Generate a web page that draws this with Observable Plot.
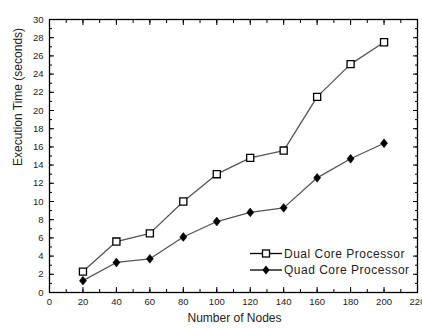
<!DOCTYPE html>
<html><head><meta charset="utf-8">
<script src="https://cdn.jsdelivr.net/npm/d3@7"></script>
<script src="https://cdn.jsdelivr.net/npm/@observablehq/plot@0.6"></script>
<style>
body{margin:0;background:#fff;}
#wrap{position:relative;width:422px;height:328px;font-family:"Liberation Sans",Arial,sans-serif;}
#legend{position:absolute;left:0;top:0;}
</style></head><body>
<div id="wrap"></div>
<script>
const nodes = [20, 40, 60, 80, 100, 120, 140, 160, 180, 200];
const dualCore = [2.3, 5.6, 6.5, 10.0, 13.0, 14.8, 15.6, 21.5, 25.1, 27.5];
const quadCore = [1.3, 3.3, 3.7, 6.1, 7.8, 8.8, 9.3, 12.6, 14.7, 16.4];
const seriesNames = ["Dual Core Processor", "Quad Core Processor"];
const xTicks = d3.range(0, 221, 20);
const xMinor = d3.range(0, 221, 10);
const yTicks = d3.range(0, 31, 2);
const yMinor = d3.range(0, 31, 1);

const dual = nodes.map((n, i) => ({n, v: dualCore[i]}));
const quad = nodes.map((n, i) => ({n, v: quadCore[i]}));

const diamond = {
  draw(ctx, size) {
    const h = Math.sqrt(size) * 0.5, w = h * 0.8;
    ctx.moveTo(0, -h); ctx.lineTo(w, 0); ctx.lineTo(0, h); ctx.lineTo(-w, 0); ctx.closePath();
  }
};

const lineColor = "#555";
const chart = Plot.plot({
  width: 422, height: 328,
  marginLeft: 49, marginRight: 5, marginTop: 19, marginBottom: 36,
  style: {fontFamily: "Liberation Sans, Arial, sans-serif", fontSize: "9.5px", color: "#000", background: "#fff"},
  x: {domain: [0, 220]},
  y: {domain: [0, 30]},
  marks: [
    Plot.frame({stroke: "#000", strokeWidth: 1.3}),
    Plot.axisX(xTicks, {anchor: "bottom", tickSize: 0, tickPadding: 6, label: null, fontSize: 9.5, fill: "#222"}),
    Plot.axisX(xTicks, {anchor: "bottom", tickSize: -5, text: null, label: null}),
    Plot.axisX(xMinor, {anchor: "bottom", tickSize: -3, text: null, label: null}),
    Plot.axisX(xTicks, {anchor: "top", tickSize: -5, text: null, label: null}),
    Plot.axisX(xMinor, {anchor: "top", tickSize: -3, text: null, label: null}),
    Plot.axisY(yTicks, {anchor: "left", tickSize: 0, tickPadding: 6, label: null, fontSize: 9.5, fill: "#222"}),
    Plot.axisY(yTicks, {anchor: "left", tickSize: -5, text: null, label: null}),
    Plot.axisY(yMinor, {anchor: "left", tickSize: -3, text: null, label: null}),
    Plot.axisY(yTicks, {anchor: "right", tickSize: -5, text: null, label: null}),
    Plot.axisY(yMinor, {anchor: "right", tickSize: -3, text: null, label: null}),
    Plot.text(["Number of Nodes"], {frameAnchor: "bottom", dy: 29, dx: 1, fontSize: 12, fill: "#222", letterSpacing: "0.3px"}),
    Plot.text(["Execution Time (seconds)"], {frameAnchor: "left", dx: -31.5, dy: 10, rotate: -90, fontSize: 12, fill: "#222"}),
    Plot.line(dual, {x: "n", y: "v", stroke: lineColor, strokeWidth: 1.3}),
    Plot.line(quad, {x: "n", y: "v", stroke: lineColor, strokeWidth: 1.3}),
    Plot.dot(dual, {x: "n", y: "v", symbol: "square", r: 4, fill: "#fff", stroke: "#000", strokeWidth: 1.3}),
    Plot.dot(quad, {x: "n", y: "v", symbol: diamond, r: 5, fill: "#000", stroke: "#000", strokeWidth: 0.5})
  ]
});
const wrap = document.getElementById("wrap");
wrap.appendChild(chart);

// Legend
const ns = "http://www.w3.org/2000/svg";
const lg = document.createElementNS(ns, "svg");
lg.setAttribute("id", "legend");
lg.setAttribute("width", 422); lg.setAttribute("height", 328);
const rows = [{y: 253.5, kind: "square"}, {y: 270, kind: "diamond"}];
rows.forEach((r, i) => {
  const l = document.createElementNS(ns, "line");
  l.setAttribute("x1", 250); l.setAttribute("x2", 282); l.setAttribute("y1", r.y); l.setAttribute("y2", r.y);
  l.setAttribute("stroke", "#000"); l.setAttribute("stroke-width", 1.3);
  lg.appendChild(l);
  let m;
  if (r.kind === "square") {
    m = document.createElementNS(ns, "rect");
    m.setAttribute("x", 262.5); m.setAttribute("y", r.y - 3.5); m.setAttribute("width", 7); m.setAttribute("height", 7);
    m.setAttribute("fill", "#fff"); m.setAttribute("stroke", "#000"); m.setAttribute("stroke-width", 1.3);
  } else {
    m = document.createElementNS(ns, "path");
    m.setAttribute("d", `M266,${r.y - 4.5}L269.6,${r.y}L266,${r.y + 4.5}L262.4,${r.y}Z`);
    m.setAttribute("fill", "#000");
  }
  lg.appendChild(m);
  const t = document.createElementNS(ns, "text");
  t.setAttribute("x", 284); t.setAttribute("y", r.y + 4.2);
  t.setAttribute("font-size", 12); t.setAttribute("letter-spacing", "0.5px");
  t.setAttribute("font-family", "Liberation Sans, Arial, sans-serif");
  t.setAttribute("fill", "#222");
  t.textContent = seriesNames[i];
  lg.appendChild(t);
});
wrap.appendChild(lg);
</script>
</body></html>
